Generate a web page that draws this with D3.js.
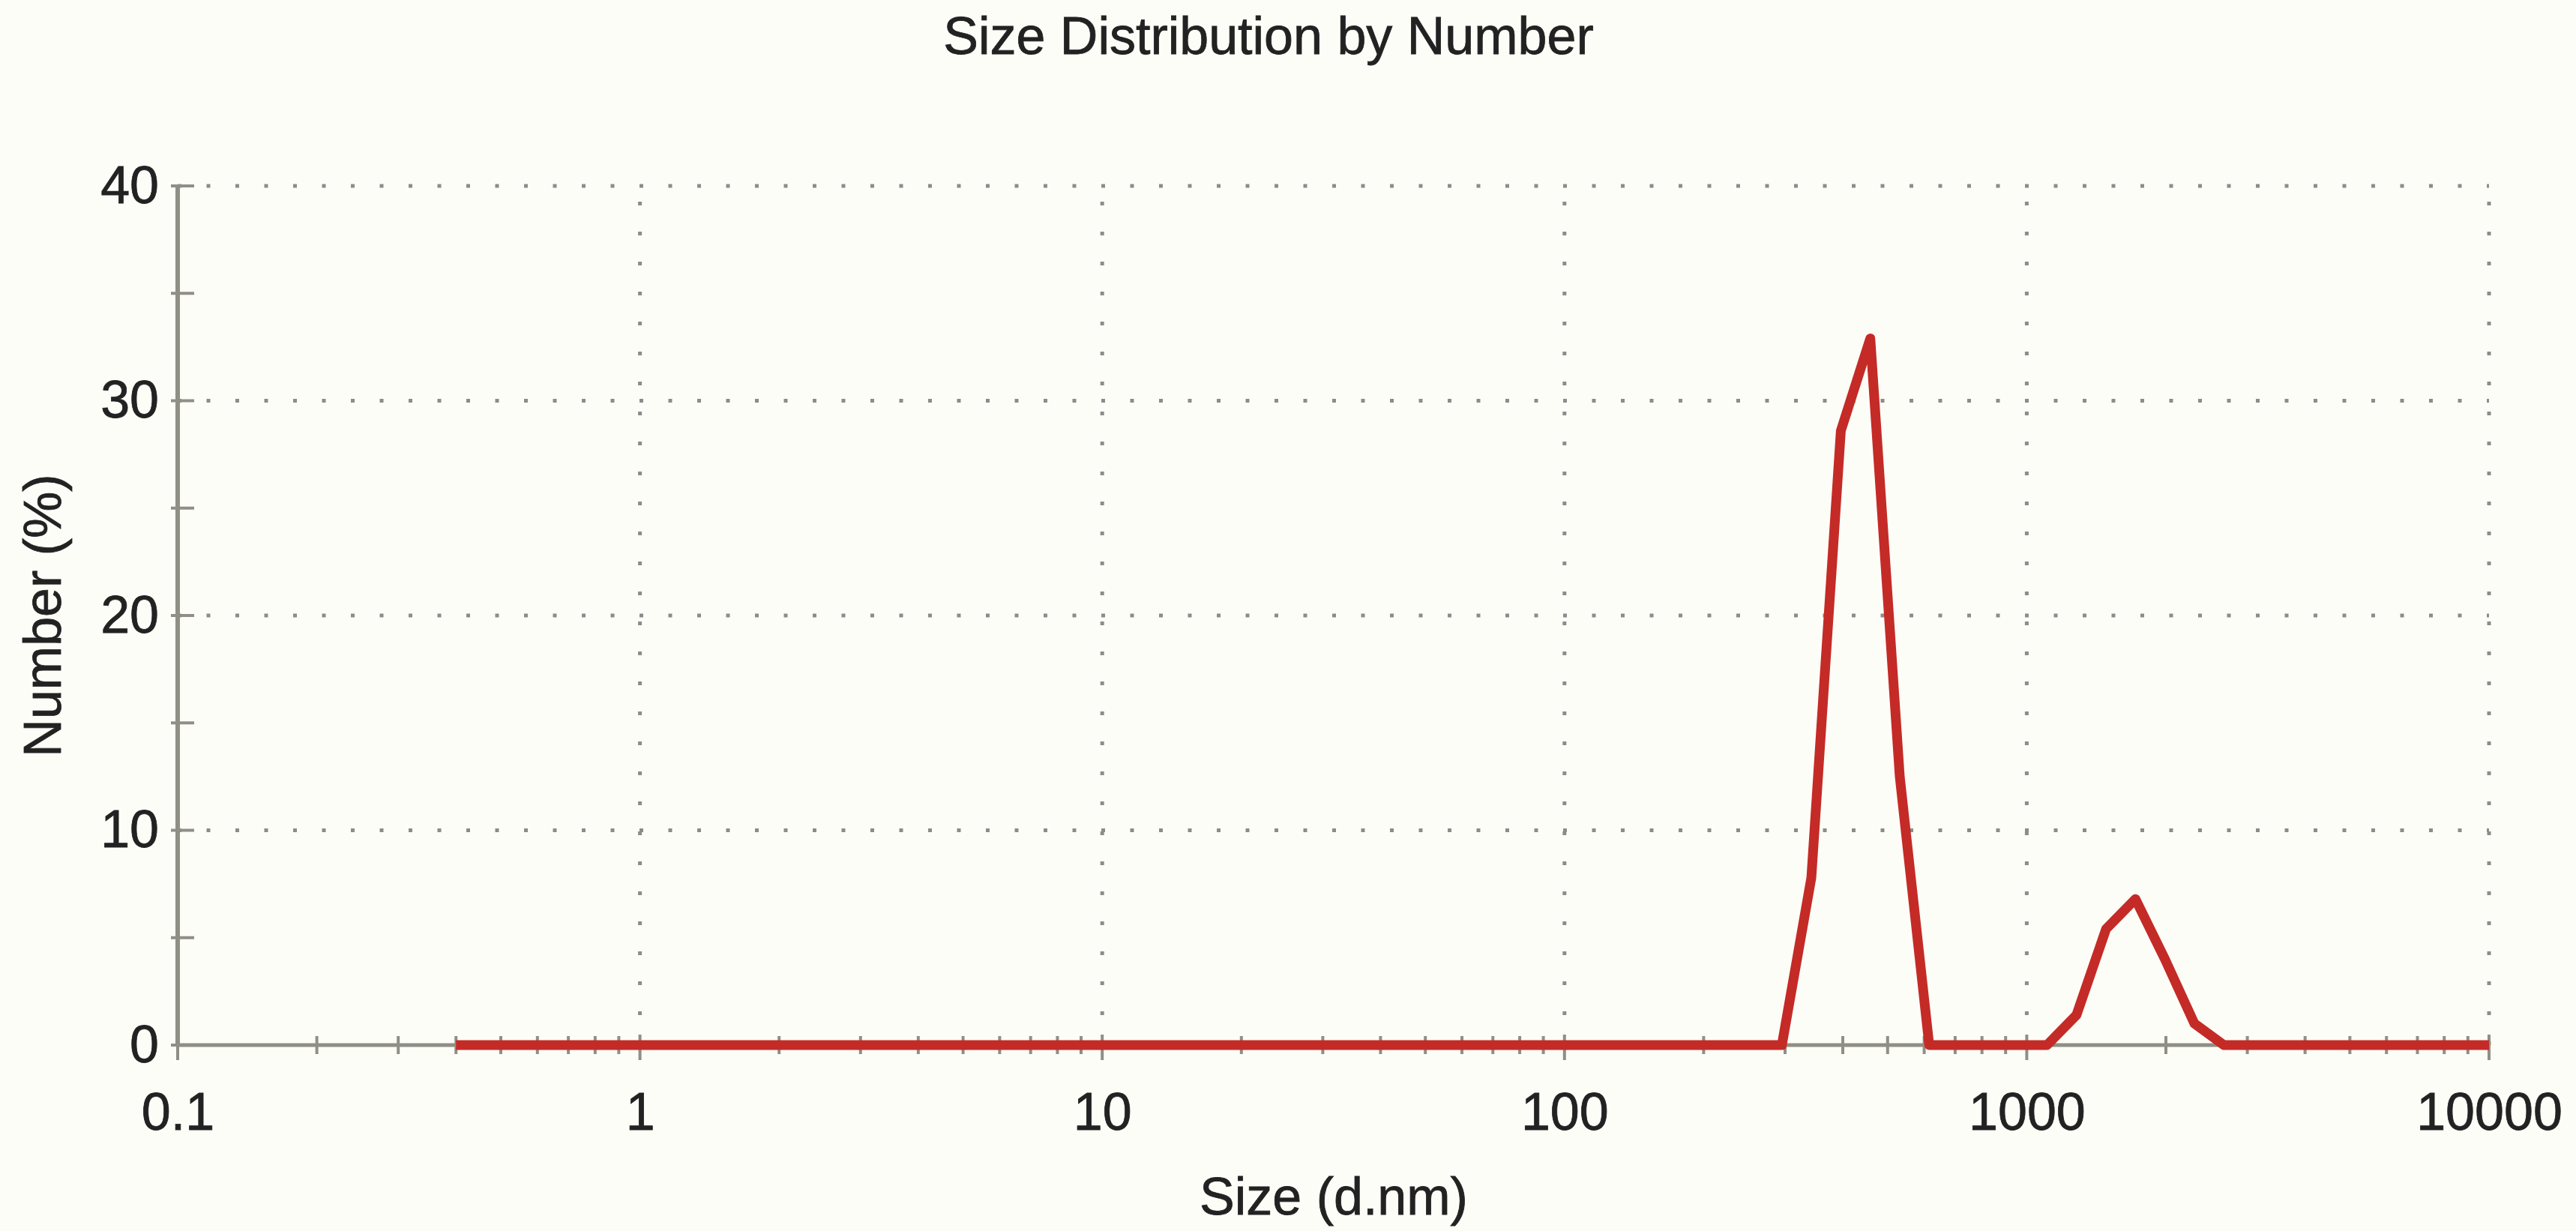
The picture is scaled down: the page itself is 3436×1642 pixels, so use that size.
<!DOCTYPE html>
<html>
<head>
<meta charset="utf-8">
<script src="https://cdn.jsdelivr.net/npm/d3@7"></script>
<style>
  body { margin: 0; background: #fdfdf8; }
  svg text { font-family: "Liberation Sans", Arial, sans-serif; fill: #222; stroke: #222; stroke-width: 0.8px; }
</style>
</head>
<body>
<div id="chart"></div>
<script>
// size classes (d.nm) of the instrument
var sizes = [0.4, 0.4632, 0.5365, 0.6213, 0.7195, 0.8332, 0.9649, 1.117, 1.294, 1.499,
  1.736, 2.010, 2.328, 2.696, 3.122, 3.615, 4.187, 4.849, 5.615, 6.503,
  7.531, 8.721, 10.10, 11.70, 13.54, 15.69, 18.17, 21.04, 24.36, 28.21,
  32.67, 37.84, 43.82, 50.75, 58.77, 68.06, 78.82, 91.28, 105.7, 122.4,
  141.8, 164.2, 190.1, 220.2, 255.0, 295.3, 342.0, 396.1, 458.7, 531.2,
  615.1, 712.4, 825.0, 955.4, 1106, 1281, 1484, 1718, 1990, 2305,
  2669, 3091, 3580, 4145, 4801, 5560, 6439, 7456, 8635, 10000];

// number (%) per class
var numbers = [0, 0, 0, 0, 0, 0, 0, 0, 0, 0,
  0, 0, 0, 0, 0, 0, 0, 0, 0, 0,
  0, 0, 0, 0, 0, 0, 0, 0, 0, 0,
  0, 0, 0, 0, 0, 0, 0, 0, 0, 0,
  0, 0, 0, 0, 0, 0, 7.8, 28.6, 32.9, 12.5,
  0, 0, 0, 0, 0, 1.4, 5.4, 6.8, 4.0, 1.0,
  0, 0, 0, 0, 0, 0, 0, 0, 0, 0];

var xTicks = [0.1, 1, 10, 100, 1000, 10000];
var xTickLabels = ['0.1', '1', '10', '100', '1000', '10000'];
var yTicks = [0, 10, 20, 30, 40];
var yMinorTicks = [5, 15, 25, 35];

var title = 'Size Distribution by Number',
    xTitle = 'Size (d.nm)',
    yTitle = 'Number (%)';

// layout
var width = 3436,
    height = 1642,
    plotLeft = 237,
    plotRight = 3320,
    plotTop = 248,
    plotBottom = 1394,
    fontSize = 70,
    lineColor = '#c42b27',
    gridColor = '#8c8c8c',
    axisColor = '#8f8f86';

var svg = d3.select('#chart').append('svg')
  .attr('width', width)
  .attr('height', height);

svg.append('rect')
  .attr('width', width)
  .attr('height', height)
  .attr('fill', '#fdfdf8');

var x = d3.scaleLog().domain([0.1, 10000]).range([plotLeft, plotRight]);
var y = d3.scaleLinear().domain([0, 40]).range([plotBottom, plotTop]);

// dotted grid
var grid = svg.append('g').attr('class', 'grid');
grid.selectAll('line.h')
  .data(yTicks.filter(function(d){ return d > 0; }))
  .enter().append('line')
  .attr('x1', plotLeft).attr('x2', plotRight)
  .attr('y1', function(d){ return y(d); })
  .attr('y2', function(d){ return y(d); })
  .attr('stroke', gridColor)
  .attr('stroke-width', 5)
  .attr('stroke-dasharray', '5,33.5');

grid.selectAll('line.v')
  .data(xTicks.slice(1))
  .enter().append('line')
  .attr('x1', function(d){ return x(d); })
  .attr('x2', function(d){ return x(d); })
  .attr('y1', plotBottom).attr('y2', plotTop)
  .attr('stroke', gridColor)
  .attr('stroke-width', 5)
  .attr('stroke-dasharray', '5,35');

// x axis (labels through d3 axis, ticks drawn crossing the line)
var xAxis = svg.append('g')
  .attr('transform', 'translate(0,' + plotBottom + ')')
  .call(d3.axisBottom(x).tickValues(xTicks)
    .tickFormat(function(d, i){ return xTickLabels[i]; })
    .tickSize(0).tickPadding(63));
xAxis.select('.domain').remove();
xAxis.selectAll('text')
  .style('font-size', fontSize + 'px')
  .attr('fill', '#222');

var minorX = [];
for (var dec = 0; dec < xTicks.length - 1; dec++) {
  for (var m = 2; m <= 9; m++) minorX.push(xTicks[dec] * m);
}

svg.append('line')
  .attr('x1', plotLeft).attr('x2', plotRight)
  .attr('y1', plotBottom).attr('y2', plotBottom)
  .attr('stroke', axisColor)
  .attr('stroke-width', 5);

svg.append('g').selectAll('line')
  .data(minorX)
  .enter().append('line')
  .attr('x1', function(d){ return x(d); })
  .attr('x2', function(d){ return x(d); })
  .attr('y1', plotBottom - 12).attr('y2', plotBottom + 12)
  .attr('stroke', axisColor)
  .attr('stroke-width', 4);

svg.append('g').selectAll('line')
  .data(xTicks)
  .enter().append('line')
  .attr('x1', function(d){ return x(d); })
  .attr('x2', function(d){ return x(d); })
  .attr('y1', plotBottom - 14).attr('y2', plotBottom + 20)
  .attr('stroke', axisColor)
  .attr('stroke-width', 4);

// y axis
var yAxis = svg.append('g')
  .attr('transform', 'translate(' + plotLeft + ',0)')
  .call(d3.axisLeft(y).tickValues(yTicks).tickSize(0).tickPadding(25));
yAxis.select('.domain').remove();
yAxis.selectAll('text')
  .style('font-size', fontSize + 'px')
  .attr('fill', '#222');

svg.append('line')
  .attr('x1', plotLeft).attr('x2', plotLeft)
  .attr('y1', plotTop).attr('y2', plotBottom)
  .attr('stroke', axisColor)
  .attr('stroke-width', 6);

svg.append('g').selectAll('line')
  .data(yTicks.concat(yMinorTicks))
  .enter().append('line')
  .attr('x1', plotLeft - 9).attr('x2', plotLeft + 22)
  .attr('y1', function(d){ return y(d); })
  .attr('y2', function(d){ return y(d); })
  .attr('stroke', axisColor)
  .attr('stroke-width', 4);

// distribution line
var points = sizes.map(function(s, i){ return {size: s, value: numbers[i]}; });
var line = d3.line()
  .x(function(d){ return x(d.size); })
  .y(function(d){ return y(d.value); });

svg.append('path')
  .datum(points)
  .attr('d', line)
  .attr('fill', 'none')
  .attr('stroke', lineColor)
  .attr('stroke-width', 13)
  .attr('stroke-linejoin', 'round');

// titles
svg.append('text')
  .attr('x', 1692)
  .attr('y', 72)
  .attr('text-anchor', 'middle')
  .style('font-size', fontSize + 'px')
  .text(title);

svg.append('text')
  .attr('x', 1779)
  .attr('y', 1620)
  .attr('text-anchor', 'middle')
  .style('font-size', fontSize + 'px')
  .text(xTitle);

svg.append('text')
  .attr('transform', 'translate(81,821) rotate(-90)')
  .attr('text-anchor', 'middle')
  .style('font-size', fontSize + 'px')
  .text(yTitle);
</script>
</body>
</html>
